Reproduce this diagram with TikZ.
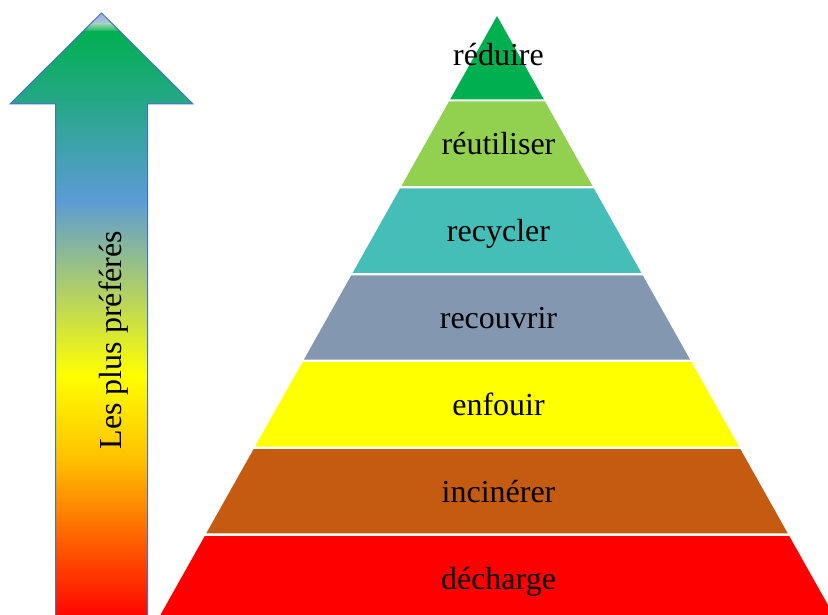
\documentclass[tikz,border=0pt]{standalone}
\usepackage{fontspec}
\setmainfont{Liberation Serif}
\begin{document}
\begin{tikzpicture}[x=1bp,y=-1bp,
  lbl/.style={font=\fontsize{32bp}{38bp}\selectfont, inner sep=0pt, anchor=base, text=black},
  arrowline/.style={draw=arrowblue, line width=1bp, line join=miter}]
% arrow gradient colours
\definecolor{lavA}{HTML}{9FB0E2}
\definecolor{lavB}{HTML}{A9BCDF}
\definecolor{paleg}{HTML}{9ED6B2}
\definecolor{agreen}{HTML}{00B050}
\definecolor{ablue}{HTML}{5B9BD5}
\definecolor{ayellow}{HTML}{FFFF00}
\definecolor{aorange}{HTML}{FFC000}
\definecolor{ared}{HTML}{FF0000}
\definecolor{arrowblue}{HTML}{4472C4}
% pyramid layer colours
\definecolor{lvA}{HTML}{00B050}
\definecolor{lvB}{HTML}{92D050}
\definecolor{lvC}{HTML}{45BEB8}
\definecolor{lvD}{HTML}{8497B0}
\definecolor{lvE}{HTML}{FFFF00}
\definecolor{lvF}{HTML}{C55A11}
\definecolor{lvG}{HTML}{FF0000}

\useasboundingbox (0,0) rectangle (828,615);
\clip (0,0) rectangle (828,615);

% gradient arrow
\begin{scope}
  \clip (101.5,13) -- (193,104) -- (147.5,104) -- (147.5,620) -- (55.5,620)
        -- (55.5,104) -- (10,104) -- cycle;
  \foreach \ya/\yb/\ca/\cb in {13/20/lavA/lavB, 20/24/lavB/paleg, 24/32/paleg/agreen,
      32/200/agreen/ablue, 200/375/ablue/ayellow, 375/460/ayellow/aorange,
      460/620/aorange/ared}
    \shade[top color=\ca, bottom color=\cb] (0,\ya-0.4) rectangle (200,\yb+0.4);
\end{scope}
\draw[arrowline] (101.5,13) -- (193,104) -- (147.5,104) -- (147.5,620) -- (55.5,620)
      -- (55.5,104) -- (10,104) -- cycle;
\node[lbl, rotate=90] (pref) at (121.5,340) {Les plus préférés};

% pyramid: apex (497,16), half width grows by 0.562 per unit of depth
\fill[lvA] (497,16) -- ({497+0.562*(99.3-16)},99.3) -- ({497-0.562*(99.3-16)},99.3) -- cycle;
\foreach \t/\b/\c in {101.5/186.0/lvB, 188.4/272.8/lvC, 275.3/359.6/lvD,
    362.2/446.5/lvE, 449.1/533.4/lvF, 536.0/620.3/lvG}
  \fill[\c] ({497-0.562*(\t-16)},\t) -- ({497+0.562*(\t-16)},\t)
        -- ({497+0.562*(\b-16)},\b) -- ({497-0.562*(\b-16)},\b) -- cycle;

\node[lbl] (reduire) at (498.5,65.7) {réduire};
\node[lbl] (reutiliser) at (498.5,154.8) {réutiliser};
\node[lbl] (recycler) at (498.5,241.6) {recycler};
\node[lbl] (recouvrir) at (498.5,328.5) {recouvrir};
\node[lbl] (enfouir) at (498.5,415.4) {enfouir};
\node[lbl] (incinerer) at (498.5,502.3) {incinérer};
\node[lbl] (decharge) at (498.5,589.2) {décharge};
\end{tikzpicture}
\end{document}
